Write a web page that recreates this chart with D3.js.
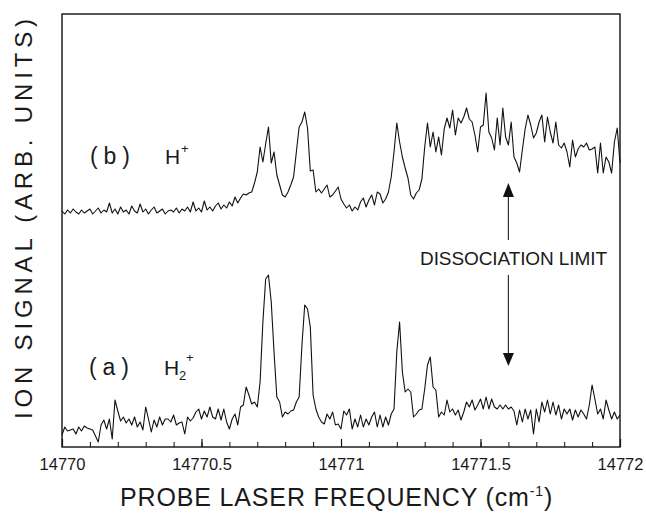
<!DOCTYPE html>
<html>
<head>
<meta charset="utf-8">
<script src="https://cdn.jsdelivr.net/npm/d3@7"></script>
<style>
  body { margin: 0; background: #fff; }
  svg { display: block; font-family: "Liberation Sans", Arial, sans-serif; }
</style>
</head>
<body>
<div id="chart"></div>
<script>
// probe laser frequency grid, cm^-1
const freqStart = 14770;
const freqStep = 0.01;
const majorTicks = [14770, 14770.5, 14771, 14771.5, 14772];
const dissociationLimit = 14771.6;

// (b) H+ ion signal, arb. units
const signalH = [
  236, 233, 237, 234, 238, 235, 233, 237, 234, 236,
  238, 233, 236, 239, 234, 237, 235, 244, 234, 238,
  233, 240, 235, 237, 233, 241, 236, 234, 243, 235,
  238, 233, 237, 240, 234, 236, 238, 233, 236, 237,
  235, 239, 234, 238, 236, 240, 235, 245, 236, 239,
  235, 246, 237, 240, 236, 241, 244, 238, 242, 239,
  245, 241, 250, 244, 249, 253, 252, 254, 255, 264,
  275, 300, 285, 303, 320, 284, 295, 272, 262, 252,
  250, 255, 262, 270, 295, 320, 325, 335, 319, 276,
  277, 255, 258, 254, 258, 262, 250, 252, 256, 260,
  248, 243, 239, 242, 236, 240, 237, 245, 249, 240,
  247, 252, 242, 255, 253, 244, 248, 255, 270, 295,
  324, 305, 290, 279, 269, 252, 248, 254, 257, 268,
  300, 324, 300, 315, 295, 310, 292, 318, 329, 319,
  337, 312, 329, 324, 330, 339, 328, 325, 312, 295,
  320, 322, 354, 315, 309, 297, 329, 302, 339, 310,
  302, 325, 290, 284, 275, 297, 318, 332, 322, 309,
  314, 325, 332, 305, 330, 315, 304, 325, 302, 299,
  304, 295, 280, 307, 290, 298, 302, 300, 304, 297,
  298, 300, 274, 304, 274, 290, 285, 274, 305, 319,
  284
];

// (a) H2+ ion signal, arb. units
const signalH2 = [
  12, 20, 16, 17, 18, 13, 20, 16, 21, 19,
  18, 17, 11, 5, 22, 27, 18, 28, 8, 47,
  36, 26, 30, 24, 28, 22, 30, 20, 25, 17,
  40, 28, 15, 27, 20, 30, 22, 28, 28, 25,
  32, 22, 24, 25, 13, 30, 26, 29, 35, 38,
  28, 36, 30, 40, 30, 28, 38, 27, 38, 25,
  18, 28, 33, 22, 40, 42, 60, 52, 43, 45,
  40, 65, 125, 168, 172, 145, 95, 50, 45, 30,
  35, 33, 36, 37, 45, 50, 102, 142, 138, 120,
  52, 38, 30, 25, 23, 33, 28, 35, 22, 23,
  18, 36, 32, 38, 18, 28, 20, 32, 20, 28,
  22, 30, 35, 20, 32, 20, 30, 22, 33, 38,
  95, 125, 75, 55, 58, 55, 30, 33, 37, 38,
  58, 82, 90, 60, 57, 30, 35, 32, 47, 35,
  38, 32, 37, 27, 35, 45, 40, 47, 37, 42,
  48, 38, 50, 38, 48, 40, 38, 42, 38, 42,
  38, 40, 36, 22, 37, 25, 38, 28, 37, 13,
  38, 25, 45, 35, 47, 33, 45, 32, 42, 28,
  38, 33, 38, 27, 37, 30, 37, 33, 28, 42,
  62, 48, 33, 38, 28, 47, 37, 28, 35, 28,
  32
];

const chart = {};
chart.margin = { top: 14, right: 26, bottom: 78, left: 62 };
chart.width = 646 - chart.margin.left - chart.margin.right;
chart.height = 525 - chart.margin.top - chart.margin.bottom;

const svgRoot = d3.select("#chart")
    .append("svg")
    .attr("width", 646)
    .attr("height", 525);

svgRoot.append("rect").attr("width", 646).attr("height", 525).attr("fill", "#fff");

const svg = svgRoot.append("g")
    .attr("transform", `translate(${chart.margin.left},${chart.margin.top})`);

const x = d3.scaleLinear().domain([14770, 14772]).range([0, chart.width]);
const y = d3.scaleLinear().domain([0, 433]).range([chart.height, 0]);

const toPoints = arr => arr.map((v, i) => ({ f: freqStart + i * freqStep, v: v }));

// minor ticks every 0.1, pointing inward
svg.append("g")
    .attr("transform", `translate(0,${chart.height})`)
    .call(d3.axisBottom(x).tickValues(x.ticks(20)).tickSize(-5).tickFormat(""))
    .call(g => g.select(".domain").remove())
    .selectAll("line").attr("stroke", "#111").attr("stroke-width", 1);

svg.append("g")
    .attr("transform", `translate(0,${chart.height})`)
    .call(d3.axisBottom(x).tickValues(majorTicks).tickSize(-8).tickPadding(11).tickFormat(d => String(d)))
    .call(g => g.select(".domain").remove())
    .call(g => g.selectAll("line").attr("stroke", "#111").attr("stroke-width", 1.2))
    .selectAll("text")
    .attr("fill", "#1a1a1a")
    .style("font-family", "'Liberation Sans', Arial, sans-serif")
    .style("font-size", "16.5px");

// frame
svg.append("rect")
    .attr("x", 0).attr("y", 0)
    .attr("width", chart.width).attr("height", chart.height)
    .attr("fill", "none")
    .attr("stroke", "#111")
    .attr("stroke-width", 1.4);

const line = d3.line()
    .x(d => x(d.f))
    .y(d => y(d.v));

[signalH, signalH2].forEach(s => {
    svg.append("path")
        .datum(toPoints(s))
        .attr("fill", "none")
        .attr("stroke", "#111")
        .attr("stroke-width", 1.1)
        .attr("stroke-linejoin", "round")
        .attr("d", line);
});

// dissociation limit arrows
const ax = x(dissociationLimit);
const arrow = (y1, y2, yTip, yBase) => {
    svg.append("line")
        .attr("x1", ax).attr("x2", ax)
        .attr("y1", y1).attr("y2", y2)
        .attr("stroke", "#333").attr("stroke-width", 1.2);
    svg.append("path")
        .attr("d", `M${ax},${yTip} L${ax - 5.5},${yBase} L${ax + 5.5},${yBase} Z`)
        .attr("fill", "#111");
};
arrow(226, 182, 169, 183);
arrow(261, 340, 352, 339);

svg.append("text")
    .attr("x", 358).attr("y", 251)
    .attr("textLength", 187)
    .attr("lengthAdjust", "spacing")
    .style("font-size", "19px")
    .attr("fill", "#1a1a1a")
    .text("DISSOCIATION  LIMIT");

// trace labels
const label = (lx, ly, tag, sub) => {
    svg.append("text")
        .attr("x", lx).attr("y", ly)
        .attr("textLength", 40).attr("lengthAdjust", "spacing")
        .style("font-size", "23px").attr("fill", "#1a1a1a")
        .text(tag);
    svg.append("text")
        .attr("x", lx + 75).attr("y", ly)
        .style("font-size", "21px").attr("fill", "#1a1a1a")
        .text("H");
    if (sub) {
        svg.append("text")
            .attr("x", lx + 90).attr("y", ly + 5)
            .style("font-size", "13px").attr("fill", "#1a1a1a")
            .text(sub);
    }
    svg.append("text")
        .attr("x", sub ? lx + 97 : lx + 91).attr("y", sub ? ly - 13 : ly - 11)
        .style("font-size", "13px").attr("fill", "#1a1a1a")
        .text("+");
};
label(28, 150, "(b)", null);
label(27, 361, "(a)", "2");

// axis titles
svgRoot.append("text")
    .attr("x", 120).attr("y", 506)
    .style("font-size", "25px")
    .style("letter-spacing", "0.85px")
    .attr("fill", "#1a1a1a")
    .text("PROBE LASER FREQUENCY (cm")
    .append("tspan")
    .attr("dy", -10)
    .style("font-size", "14px")
    .text("-1")
    .select(function() { return this.parentNode; })
    .append("tspan")
    .attr("dy", 10)
    .text(")");

svgRoot.append("text")
    .attr("transform", "translate(32,419) rotate(-90)")
    .attr("textLength", 400)
    .attr("lengthAdjust", "spacing")
    .style("font-size", "24px")
    .attr("fill", "#1a1a1a")
    .text("ION SIGNAL (ARB. UNITS)");
</script>
</body>
</html>
